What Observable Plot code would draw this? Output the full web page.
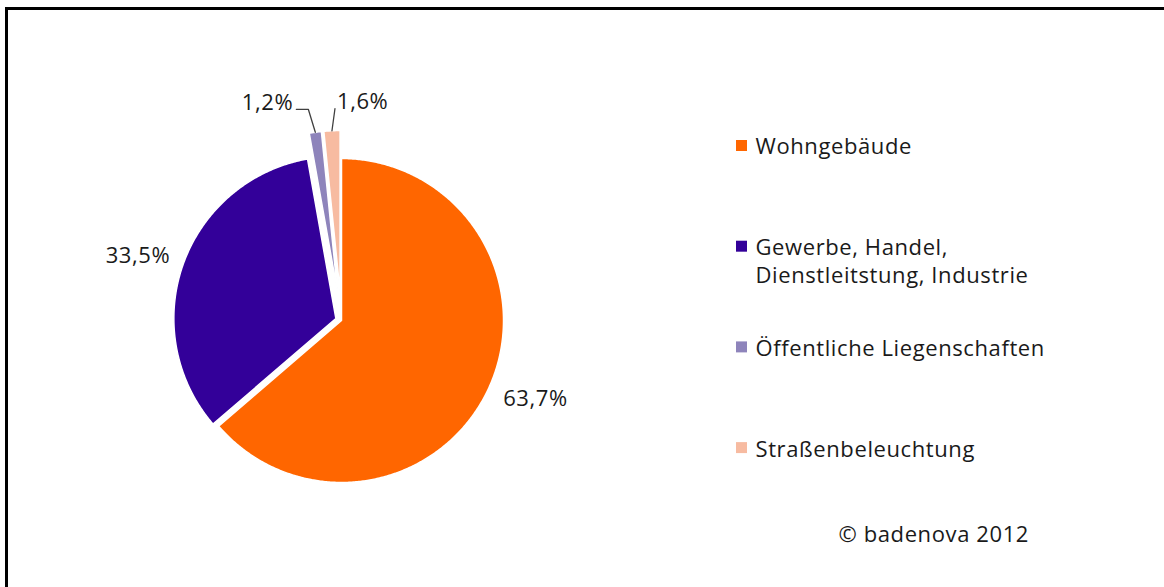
<!DOCTYPE html>
<html>
<head>
<meta charset="utf-8">
<script src="https://cdn.jsdelivr.net/npm/d3@7"></script>
<script src="https://cdn.jsdelivr.net/npm/@observablehq/plot@0.6"></script>
<style>
  html, body { margin: 0; padding: 0; background: #fff; }
  #wrap { position: relative; width: 1164px; height: 587px; overflow: hidden; }
  #frame { position: absolute; left: 5px; top: 7px; right: -10px; bottom: -10px;
           border-left: 3px solid #000; border-top: 3px solid #000; pointer-events: none; }
  svg text { letter-spacing: 0.6px; }
</style>
</head>
<body>
<div id="wrap"><div id="frame"></div></div>
<script>
// ---- data ----
const categories = ["Wohngebäude", "Gewerbe, Handel,\nDienstleitstung, Industrie", "Öffentliche Liegenschaften", "Straßenbeleuchtung"];
const shares = [63.7, 33.5, 1.2, 1.6];
const valueLabels = ["63,7%", "33,5%", "1,2%", "1,6%"];
const colors = ["#FF6600", "#330099", "#8E84BB", "#F7BBA1"];
const source = "© badenova 2012";

// ---- layout ----
const W = 1164, H = 587;
const cx = 341, cy = 320, R = 162;
const explode = [0, 6, 28, 28];
const labelShift = [[4, -9], [-1, 8], [0, 0], [0, 0]];
const font = "'Open Sans', 'Noto Sans', sans-serif";
const fs = 22;

const arcs = d3.pie().sort(null).value(d => d)(shares);
const slicePts = [];
const labels = [];
const leaders = [];
arcs.forEach((p, i) => {
  const mid = (p.startAngle + p.endAngle) / 2;
  const ox = cx + explode[i] * Math.sin(mid);
  const oy = cy - explode[i] * Math.cos(mid);
  const cat = categories[i];
  slicePts.push({cat, x: ox, y: oy});
  const n = Math.max(2, Math.ceil((p.endAngle - p.startAngle) / (Math.PI / 360)));
  for (let k = 0; k <= n; k++) {
    const a = p.startAngle + (p.endAngle - p.startAngle) * k / n;
    slicePts.push({cat, x: ox + R * Math.sin(a), y: oy - R * Math.cos(a)});
  }
  const tipX = ox + R * Math.sin(mid), tipY = oy - R * Math.cos(mid);
  if (shares[i] > 5) {
    labels.push({text: valueLabels[i], x: ox + (R + 47) * Math.sin(mid) + labelShift[i][0], y: oy - (R + 47) * Math.cos(mid) + labelShift[i][1], anchor: "middle"});
  } else if (i === 2) {
    leaders.push({id: i, x: tipX, y: tipY}, {id: i, x: tipX - 7, y: tipY - 23}, {id: i, x: tipX - 19, y: tipY - 23});
    labels.push({text: valueLabels[i], x: tipX - 22, y: tipY - 29, anchor: "end"});
  } else {
    leaders.push({id: i, x: tipX, y: tipY}, {id: i, x: tipX + 3, y: tipY - 22});
    labels.push({text: valueLabels[i], x: tipX + 5, y: tipY - 29, anchor: "start"});
  }
});

// legend
const legendX = 741, legendY0 = 145, legendStep = 100.7, lineH = 28;
const legend = categories.map((c, i) => {
  const lines = c.split("\n").length;
  return {cat: c, y: legendY0 + i * legendStep, ty: legendY0 + i * legendStep + (lines - 1) * lineH / 2};
});

const chart = Plot.plot({
  width: W, height: H,
  margin: 0,
  x: {type: "linear", domain: [0, W], range: [0, W], axis: null},
  y: {type: "linear", domain: [0, H], range: [0, H], axis: null},
  color: {domain: categories, range: colors},
  style: {fontFamily: font, fontSize: fs + "px", color: "#1a1a1a", background: "transparent"},
  marks: [
    Plot.line(slicePts, {x: "x", y: "y", z: "cat", fill: "cat", stroke: "white", strokeWidth: 1.5, curve: "linear-closed"}),
    Plot.line(leaders, {x: "x", y: "y", z: "id", stroke: "#404040", strokeWidth: 1.3}),
    Plot.text(labels.filter(d => d.anchor === "middle"), {x: "x", y: "y", text: "text", textAnchor: "middle", fill: "#1a1a1a", fontSize: fs}),
    Plot.text(labels.filter(d => d.anchor === "end"), {x: "x", y: "y", text: "text", textAnchor: "end", fill: "#1a1a1a", fontSize: fs}),
    Plot.text(labels.filter(d => d.anchor === "start"), {x: "x", y: "y", text: "text", textAnchor: "start", fill: "#1a1a1a", fontSize: fs}),
    Plot.dot(legend, {x: () => legendX, y: "y", symbol: "square", r: 6.2, fill: "cat", stroke: null}),
    Plot.text(legend, {x: () => legendX + 14, y: "ty", text: "cat", textAnchor: "start", lineAnchor: "middle", lineHeight: lineH / fs, fill: "#1a1a1a", fontSize: fs}),
    Plot.text([source], {x: () => 838, y: () => 534, text: d => d, textAnchor: "start", fill: "#1a1a1a", fontSize: fs})
  ]
});
document.getElementById("wrap").appendChild(chart);
chart.style.position = "absolute";
chart.style.left = "0";
chart.style.top = "0";
</script>
</body>
</html>
